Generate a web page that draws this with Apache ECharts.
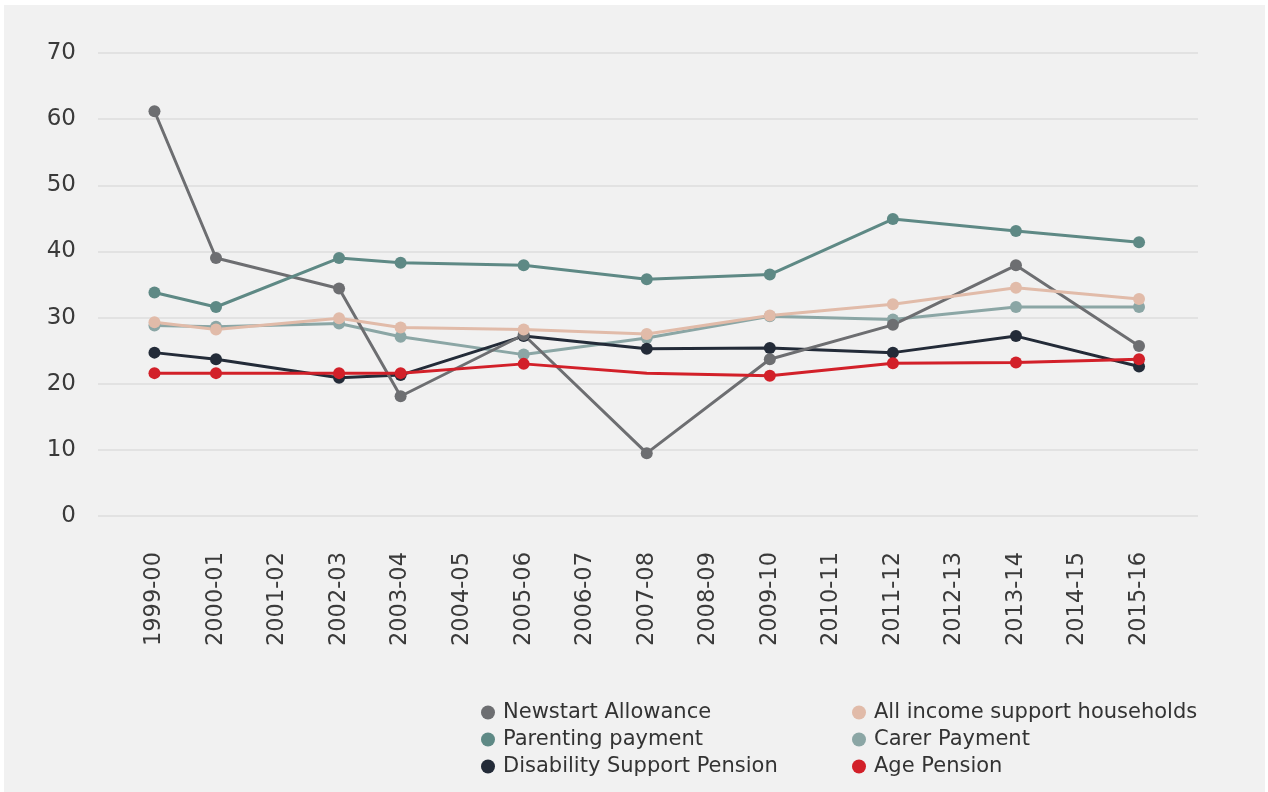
<!DOCTYPE html>
<html>
<head>
<meta charset="utf-8">
<script src="https://cdn.jsdelivr.net/npm/echarts@6/dist/echarts.min.js"></script>
<style>
html,body{margin:0;padding:0;background:#ffffff;width:1268px;height:792px;overflow:hidden;}
#chart{position:absolute;left:4px;top:5px;width:1261px;height:787px;}
</style>
</head>
<body>
<div id="chart"></div>
<script>
const categories = ['1999-00','2000-01','2001-02','2002-03','2003-04','2004-05','2005-06','2006-07','2007-08','2008-09','2009-10','2010-11','2011-12','2012-13','2013-14','2014-15','2015-16'];
const yTicks = [0, 70, 10]; // min, max, interval
const newstart  = [61.2, 39.0, null, 34.4, 18.1, null, 27.4, null, 9.5,  null, 23.7, null, 28.9, null, 37.9, null, 25.7];
const parenting = [33.8, 31.6, null, 39.0, 38.3, null, 37.9, null, 35.8, null, 36.5, null, 44.9, null, 43.1, null, 41.4];
const allIncome = [29.3, 28.2, null, 29.9, 28.5, null, 28.2, null, 27.5, null, 30.3, null, 32.0, null, 34.5, null, 32.8];
const carer     = [28.8, 28.6, null, 29.1, 27.1, null, 24.4, null, 26.9, null, 30.2, null, 29.7, null, 31.6, null, 31.6];
const dsp       = [24.7, 23.7, null, 20.9, 21.3, null, 27.2, null, 25.3, null, 25.4, null, 24.7, null, 27.2, null, 22.6];
const agePension= [21.6, 21.6, null, 21.6, 21.6, null, 23.0, null, 21.6, null, 21.2, null, 23.1, null, 23.2, null, 23.7];
const ageNoMarkerIndex = 8;

const names = {
  newstart: 'Newstart Allowance',
  parenting: 'Parenting payment',
  dsp: 'Disability Support Pension',
  allIncome: 'All income support households',
  carer: 'Carer Payment',
  age: 'Age Pension'
};
const colors = {
  newstart: '#6d6e71',
  parenting: '#5e8985',
  dsp: '#232b38',
  allIncome: '#e1bba9',
  carer: '#8ba6a5',
  age: '#d22029'
};

const FONT = 'DejaVu Sans';
const chart = echarts.init(document.getElementById('chart'), null, {renderer: 'canvas'});

function mkSeries(key, data) {
  return {
    name: names[key],
    type: 'line',
    xAxisIndex: 1,
    yAxisIndex: 1,
    data: data,
    connectNulls: true,
    symbol: 'circle',
    symbolSize: 12,
    showSymbol: true,
    lineStyle: {width: 3, color: colors[key]},
    itemStyle: {color: colors[key]},
    emphasis: {disabled: true},
    animation: false
  };
}

const ageData = agePension.map((v, i) => i === ageNoMarkerIndex ? {value: v, symbol: 'none'} : v);

const legendText = {fontFamily: FONT, fontSize: 21, lineHeight: 20, color: '#333333', padding: [0, 0, 0, 3]};

const option = {
  backgroundColor: '#f1f1f1',
  animation: false,
  grid: [
    {left: 94, width: 1100, top: 48, height: 463},
    {left: 119.7, width: 1046.1, top: 48, height: 463}
  ],
  xAxis: [
    {gridIndex: 0, type: 'value', min: 0, max: 1, show: false},
    {
      gridIndex: 1, type: 'category', data: categories, boundaryGap: true,
      axisLine: {show: false}, axisTick: {show: false}, splitLine: {show: false},
      axisLabel: {rotate: 90, interval: 0, margin: 36, fontFamily: FONT, fontSize: 22.5, color: '#3a3a3a'}
    }
  ],
  yAxis: [
    {
      gridIndex: 0, type: 'value', min: yTicks[0], max: yTicks[1], interval: yTicks[2],
      axisLine: {show: false}, axisTick: {show: false},
      splitLine: {show: true, lineStyle: {color: '#dddddd', width: 1.5}},
      axisLabel: {margin: 22, fontFamily: FONT, fontSize: 23, color: '#3a3a3a', padding: [0, 0, 10, 0]}
    },
    {gridIndex: 1, type: 'value', min: yTicks[0], max: yTicks[1], interval: yTicks[2], show: false}
  ],
  legend: [
    {
      orient: 'vertical', left: 472, top: 692, itemWidth: 14, itemHeight: 14, itemGap: 6,
      icon: 'circle', selectedMode: false,
      data: [names.newstart, names.parenting, names.dsp],
      textStyle: legendText
    },
    {
      orient: 'vertical', left: 843, top: 692, itemWidth: 14, itemHeight: 14, itemGap: 6,
      icon: 'circle', selectedMode: false,
      data: [names.allIncome, names.carer, names.age],
      textStyle: legendText
    }
  ],
  series: [
    mkSeries('carer', carer),
    mkSeries('dsp', dsp),
    mkSeries('newstart', newstart),
    mkSeries('parenting', parenting),
    mkSeries('allIncome', allIncome),
    mkSeries('age', ageData)
  ]
};
chart.setOption(option);
</script>
</body>
</html>
